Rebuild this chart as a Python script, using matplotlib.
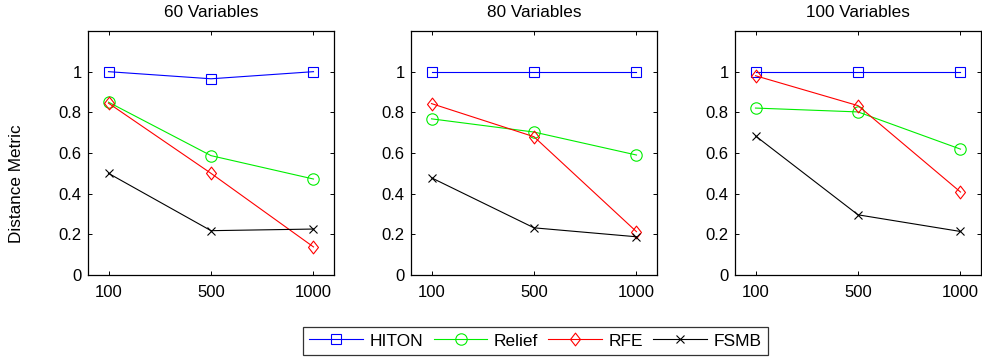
import numpy as np
import matplotlib
matplotlib.use("Agg")
import matplotlib.pyplot as plt
from matplotlib.path import Path

plt.rcParams['font.family'] = ['Liberation Sans', 'DejaVu Sans']

# sample sizes (categorical on x)
sampleSizes = ['100', '500', '1000']
panelTitles = ['60 Variables', '80 Variables', '100 Variables']
methods = ['HITON', 'Relief', 'RFE', 'FSMB']

# distance metric per panel, per method
hiton = [[1.00, 0.965, 1.00], [1.00, 1.00, 1.00], [1.00, 1.00, 1.00]]
relief = [[0.85, 0.587, 0.472], [0.768, 0.703, 0.590], [0.821, 0.802, 0.619]]
rfe = [[0.845, 0.500, 0.138], [0.843, 0.680, 0.213], [0.980, 0.833, 0.408]]
fsmb = [[0.500, 0.218, 0.226], [0.478, 0.232, 0.188], [0.684, 0.296, 0.214]]

# matlab-ish diamond, a bit taller than wide
diamond = Path([(0, 1), (0.78, 0), (0, -1), (-0.78, 0), (0, 1)],
	[Path.MOVETO, Path.LINETO, Path.LINETO, Path.LINETO, Path.CLOSEPOLY])

styles = {
	'HITON': dict(color='#0000ff', marker='s', ms=6.7),
	'Relief': dict(color='#00ee00', marker='o', ms=8.2),
	'RFE': dict(color='#ff0000', marker=diamond, ms=9.2),
	'FSMB': dict(color='black', marker='x', ms=5.2),
}

fig = plt.figure(figsize=(9.82, 3.6), dpi=100)
lefts = [88, 411, 735]
W, H = 982.0, 360.0
x = np.arange(1, len(sampleSizes) + 1)

handles = []
for i, left in enumerate(lefts):
	ax = fig.add_axes([left / W, 1 - 275 / H, 246 / W, 244 / H])
	for name, vals in zip(methods, [hiton, relief, rfe, fsmb]):
		st = styles[name]
		h, = ax.plot(x, vals[i], color=st['color'], marker=st['marker'], ms=st['ms'],
			mfc='none', mec=st['color'], lw=0.8, mew=0.8, label=name)
		if i == 0:
			handles.append(h)
	ax.set_xlim(0.8, 3.2)
	ax.set_ylim(0, 1.2)
	ax.set_xticks(x)
	ax.set_xticklabels(sampleSizes)
	ax.set_yticks([0, 0.2, 0.4, 0.6, 0.8, 1])
	ax.set_yticklabels(['0', '0.2', '0.4', '0.6', '0.8', '1'])
	ax.tick_params(direction='in', top=True, right=True, labelsize=12, length=3, width=0.7)
	ax.tick_params(axis='x', pad=7)
	ax.tick_params(axis='y', pad=4.5)
	for s in ax.spines.values():
		s.set_linewidth(0.9)
	ax.set_title(panelTitles[i], fontsize=12.3, pad=10)

fig.text(17 / W, 1 - 184 / H, 'Distance Metric', rotation=90, fontsize=12.3,
	ha='center', va='center')

leg = fig.legend(handles=handles, loc='center', bbox_to_anchor=(535.5 / W, 1 - 341 / H),
	ncol=4, fontsize=12.5, frameon=True, fancybox=False, edgecolor='black',
	handlelength=3.1, columnspacing=0.6, handletextpad=0.36, borderpad=0.35)
leg.get_frame().set_linewidth(0.9)

plt.savefig('out.png', dpi=100)
